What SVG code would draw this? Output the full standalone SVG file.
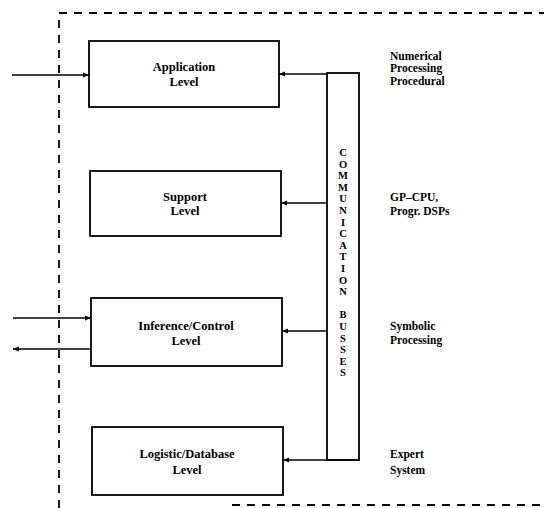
<svg xmlns="http://www.w3.org/2000/svg" width="544" height="508" viewBox="0 0 544 508">
<style>
.box{fill:#fff;stroke:#000;stroke-width:1.8}
.ln{fill:none;stroke:#000;stroke-width:1.6}
.dash{fill:none;stroke:#000;stroke-width:1.8;stroke-dasharray:8 7}
.t{font-family:"Liberation Serif",serif;font-weight:bold;font-size:12.5px;text-anchor:middle;fill:#000}
.r{font-family:"Liberation Serif",serif;font-weight:bold;font-size:11.5px;fill:#000}
.v{font-family:"Liberation Serif",serif;font-weight:bold;font-size:10.5px;text-anchor:middle;fill:#000}
</style>
<defs>
<marker id="ah" viewBox="0 0 10 10" refX="10" refY="5" markerWidth="6" markerHeight="6" markerUnits="userSpaceOnUse" orient="auto">
<path d="M0,1 L10,5 L0,9 z" fill="#000"/>
</marker>
</defs>
<rect width="544" height="508" fill="#fff"/>
<g id="border">
<path class="dash" d="M59,508 L59,13 L544,13"/>
<path class="dash" d="M232,505 L544,505"/>
</g>
<g id="bus">
<rect class="box" x="327" y="73" width="32" height="387"/>
<text class="v" x="343" y="156">C</text>
<text class="v" x="343" y="167.6">O</text>
<text class="v" x="343" y="179.2">M</text>
<text class="v" x="343" y="190.8">M</text>
<text class="v" x="343" y="202.4">U</text>
<text class="v" x="343" y="214">N</text>
<text class="v" x="343" y="225.6">I</text>
<text class="v" x="343" y="237.2">C</text>
<text class="v" x="343" y="248.8">A</text>
<text class="v" x="343" y="260.4">T</text>
<text class="v" x="343" y="272">I</text>
<text class="v" x="343" y="283.6">O</text>
<text class="v" x="343" y="295.2">N</text>
<text class="v" x="343" y="318.4">B</text>
<text class="v" x="343" y="330">U</text>
<text class="v" x="343" y="341.6">S</text>
<text class="v" x="343" y="353.2">S</text>
<text class="v" x="343" y="364.8">E</text>
<text class="v" x="343" y="376.4">S</text>
</g>
<g id="application">
<rect class="box" x="89" y="41" width="190" height="66"/>
<text class="t" x="184" y="71">Application</text>
<text class="t" x="184" y="86">Level</text>
</g>
<g id="support">
<rect class="box" x="90" y="171" width="191" height="65"/>
<text class="t" x="185" y="201">Support</text>
<text class="t" x="185" y="215">Level</text>
</g>
<g id="inference">
<rect class="box" x="91" y="298" width="191" height="68"/>
<text class="t" x="186" y="330">Inference/Control</text>
<text class="t" x="186" y="345">Level</text>
</g>
<g id="logistic">
<rect class="box" x="92" y="427" width="191" height="68"/>
<text class="t" x="187" y="458">Logistic/Database</text>
<text class="t" x="187" y="474">Level</text>
</g>
<g id="labels">
<text class="r" x="390" y="60">Numerical</text>
<text class="r" x="390" y="72">Processing</text>
<text class="r" x="390" y="85">Procedural</text>
<text class="r" x="390" y="201">GP–CPU,</text>
<text class="r" x="390" y="215">Progr. DSPs</text>
<text class="r" x="390" y="330">Symbolic</text>
<text class="r" x="390" y="344">Processing</text>
<text class="r" x="390" y="458">Expert</text>
<text class="r" x="390" y="474">System</text>
</g>
<g id="connectors">
<path class="ln" d="M327,74 L279,74" marker-end="url(#ah)"/>
<path class="ln" d="M327,203 L281,203" marker-end="url(#ah)"/>
<path class="ln" d="M327,331 L282,331" marker-end="url(#ah)"/>
<path class="ln" d="M359,460 L283,460" marker-end="url(#ah)"/>
<path class="ln" d="M12,75 L89,75" marker-end="url(#ah)"/>
<path class="ln" d="M13,318 L91,318" marker-end="url(#ah)"/>
<path class="ln" d="M91,349 L13,349" marker-end="url(#ah)"/>
</g>
</svg>
